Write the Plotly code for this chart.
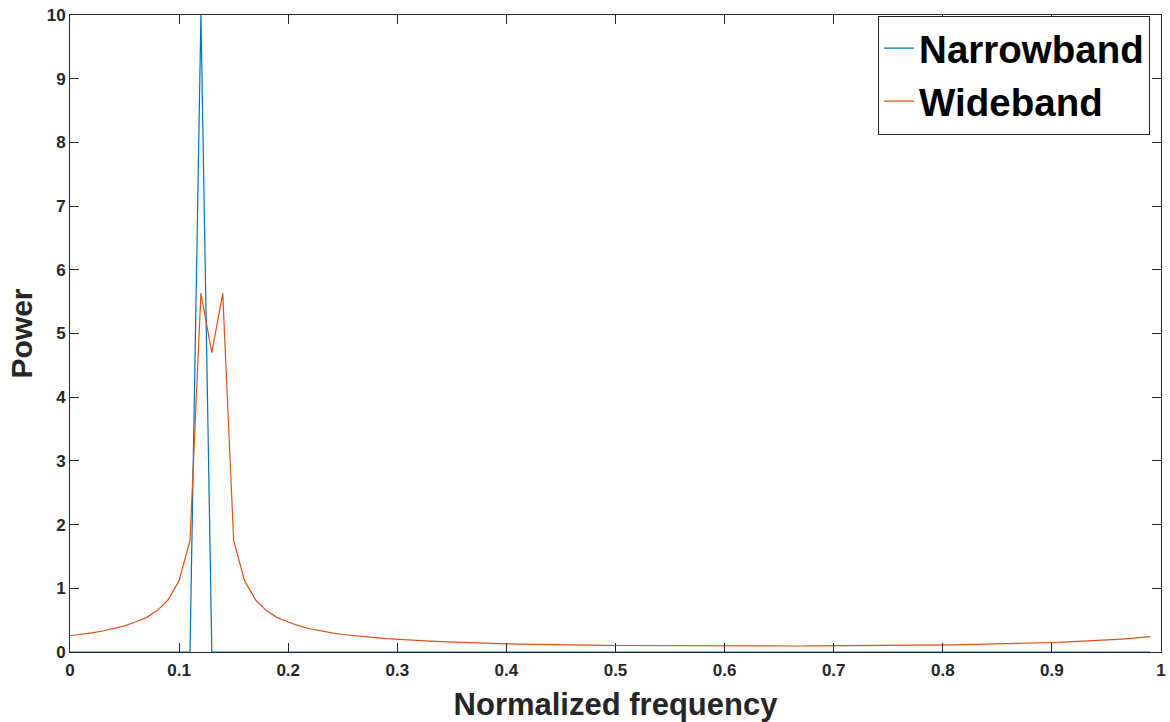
import plotly.graph_objects as go

freq = [round(i * 0.01, 2) for i in range(100)]

narrowband = [0.0] * 100
narrowband[12] = 10.0

wideband = [
    0.255, 0.275, 0.30, 0.33, 0.365, 0.41, 0.47, 0.54, 0.65, 0.82,
    1.12, 1.75, 5.63, 4.70, 5.63, 1.75, 1.12, 0.82, 0.65, 0.54,
    0.47, 0.41, 0.365, 0.33, 0.30, 0.275, 0.255, 0.24, 0.225, 0.21,
    0.198, 0.188, 0.178, 0.170, 0.162, 0.155, 0.149, 0.143, 0.138, 0.133,
    0.129, 0.125, 0.121, 0.118, 0.115, 0.112, 0.110, 0.108, 0.106, 0.104,
    0.102, 0.101, 0.100, 0.099, 0.098, 0.097, 0.096, 0.0955, 0.095, 0.0945,
    0.094, 0.094, 0.094, 0.094, 0.094, 0.094, 0.094, 0.0945, 0.095, 0.0955,
    0.096, 0.097, 0.098, 0.099, 0.100, 0.101, 0.102, 0.104, 0.106, 0.108,
    0.110, 0.112, 0.115, 0.118, 0.121, 0.125, 0.129, 0.133, 0.138, 0.143,
    0.149, 0.155, 0.162, 0.170, 0.178, 0.188, 0.198, 0.21, 0.225, 0.24,
]

x_ticks = [0, 0.1, 0.2, 0.3, 0.4, 0.5, 0.6, 0.7, 0.8, 0.9, 1]
x_tick_labels = ["0", "0.1", "0.2", "0.3", "0.4", "0.5", "0.6", "0.7", "0.8", "0.9", "1"]
y_ticks = list(range(0, 11))

FONT = "Liberation Sans, Arial, sans-serif"
AX = "#262626"

fig = go.Figure()
fig.add_trace(go.Scatter(x=freq, y=narrowband, mode="lines", name="Narrowband",
                         line=dict(color="#0072BD", width=1.2)))
fig.add_trace(go.Scatter(x=freq, y=wideband, mode="lines", name="Wideband",
                         line=dict(color="#D95319", width=1.2)))

axis_common = dict(
    showline=True, linecolor=AX, linewidth=1, mirror="ticks",
    ticks="inside", ticklen=9, tickcolor=AX, tickwidth=1,
    showgrid=False, zeroline=False, automargin=False,
    tickfont=dict(family=FONT, size=17, color=AX, weight="bold"),
)

fig.update_layout(
    width=1170, height=722,
    paper_bgcolor="white", plot_bgcolor="white",
    margin=dict(l=70, r=9, t=15, b=70),
    showlegend=True,
    legend=dict(
        x=0.99, y=0.999, xanchor="right", yanchor="top",
        bgcolor="white", bordercolor=AX, borderwidth=1,
        font=dict(family=FONT, size=38.5, color="black", weight="bold"),
        tracegroupgap=0, itemwidth=30,
    ),
    xaxis=dict(
        range=[0, 1], tickvals=x_ticks, ticktext=x_tick_labels,
        ticklabelstandoff=3,
        title=dict(text="Normalized frequency", standoff=13,
                   font=dict(family=FONT, size=31, color=AX, weight="bold")),
        **axis_common,
    ),
    yaxis=dict(
        range=[0, 10], tickvals=y_ticks,
        title=dict(text="Power", standoff=5,
                   font=dict(family=FONT, size=30, color=AX, weight="bold")),
        **axis_common,
    ),
)

fig.write_html(
    "out.html",
    config={"displayModeBar": False},
    post_script="document.body.style.margin='0';document.body.style.overflow='hidden';",
)
